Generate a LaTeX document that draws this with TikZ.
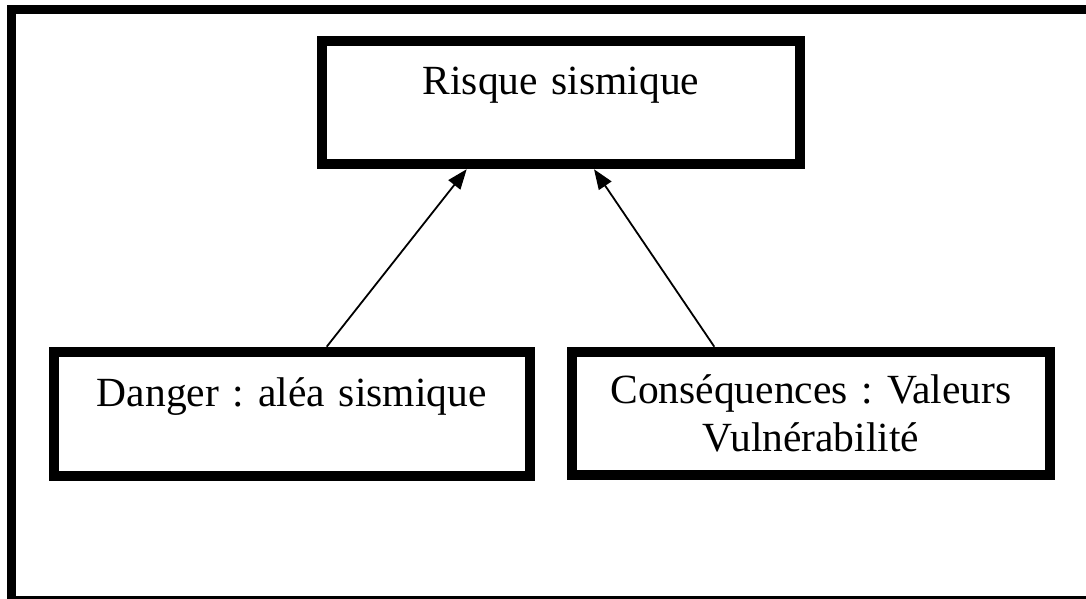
\documentclass[tikz,border=0pt]{standalone}
\usepackage{fontspec}
\setmainfont{Liberation Serif}
\usetikzlibrary{arrows.meta,calc}
\frenchspacing

\begin{document}
\begin{tikzpicture}[
  x=1pt, y=-1pt,
  box/.style={rectangle, draw=black, line width=10pt, inner sep=0pt,
              anchor=north west, align=center,
              font=\fontsize{41.5}{48.4}\selectfont},
  arr/.style={-{Triangle[length=20pt,width=15pt]}, line width=1.8pt, black},
  frame/.style={draw=black, line width=9pt}
]
\useasboundingbox (0,0) rectangle (1086,598);
\draw[frame] (11.5,9) rectangle (1100,600.5);
\node[box, text width=477.4pt, text height=53.6pt, text depth=69.9pt]
  (risque) at (317.3,35.7) {Risque sismique};
\node[box, text width=476.5pt, text height=54.3pt, text depth=69.7pt]
  (danger) at (48.5,346.7) {Danger : aléa sismique};
\node[box, text width=478pt, text height=51.6pt, text depth=71.7pt]
  (consequences) at (567,346.7) {Conséquences : Valeurs\\ Vulnérabilité};
\draw[arr] ([xshift=278.2pt]danger.north west) -- ([xshift=149.4pt]risque.south west);
\draw[arr] ([xshift=147.3pt]consequences.north west) -- ([xshift=276.7pt]risque.south west);
\end{tikzpicture}
\end{document}
